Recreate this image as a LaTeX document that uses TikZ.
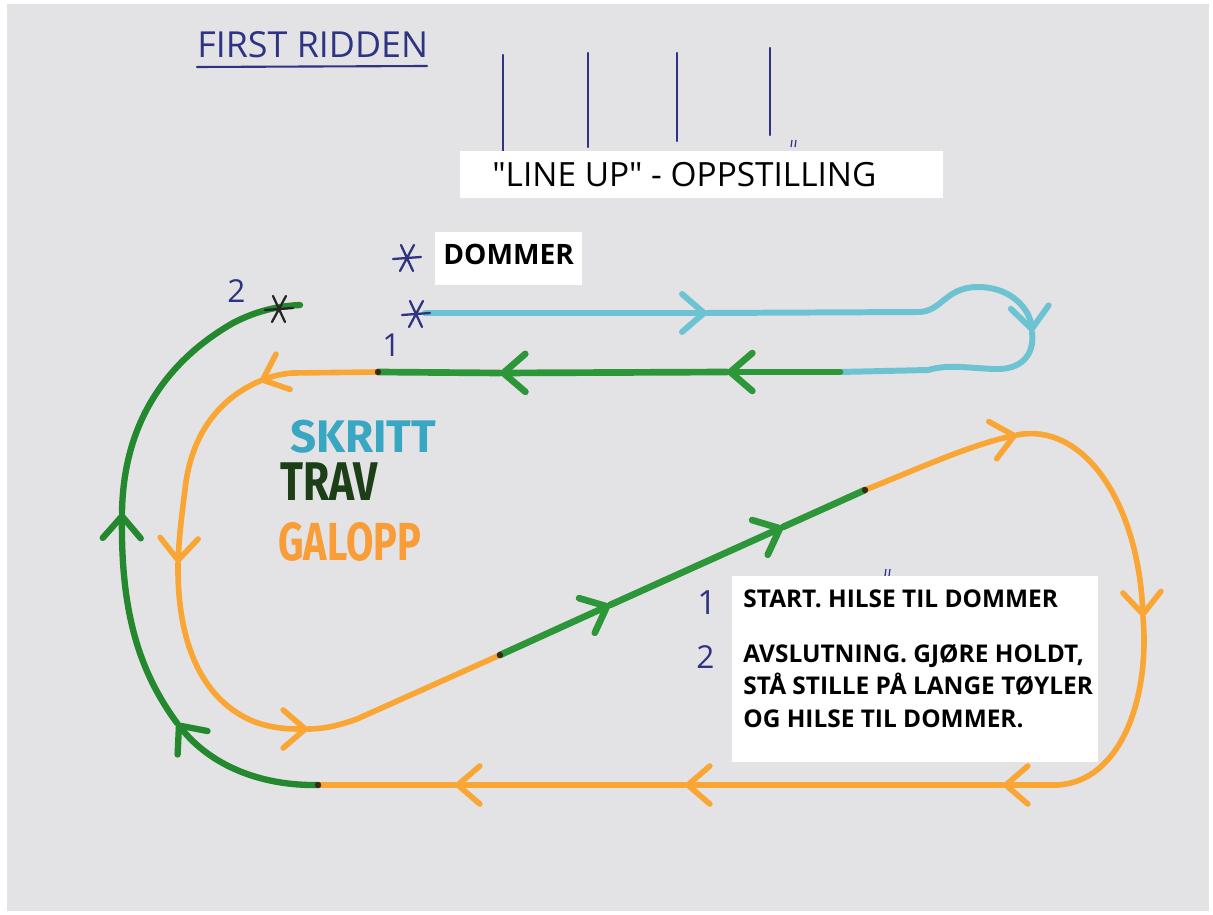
\documentclass[tikz,border=0pt]{standalone}
\usepackage{fontspec}
\setmainfont{Open Sans}
\newfontfamily\plainfont{Open Sans}
\newfontfamily\legendfont{Fira Sans}
\usetikzlibrary{arrows.meta}
\definecolor{paper}{HTML}{E3E3E5}
\definecolor{navy}{HTML}{2E3382}
\definecolor{skrline}{HTML}{6EC3D3}
\definecolor{grn}{HTML}{2C9638}
\definecolor{grnleft}{HTML}{23882E}
\definecolor{org}{HTML}{F9A634}
\definecolor{skr}{HTML}{3AA7C2}
\definecolor{trv}{HTML}{1D3F17}
\definecolor{glp}{HTML}{F99D38}
\definecolor{jdot}{HTML}{3A2A14}
\tikzset{
  chev/.tip={Straight Barb[length=0.44cm,width=0.76cm,round]},
  pen/.style={line cap=round, line join=round},
  skrittline/.style={pen, skrline, line width=3.4pt},
  travline/.style={pen, grn, line width=3.8pt},
  travleft/.style={pen, grnleft, line width=3.6pt},
  galoppline/.style={pen, org, line width=3.2pt},
  arr/.style={-{chev}},
  navyline/.style={navy, line width=1.2pt, line cap=round},
  hand/.style={navy, inner sep=0, anchor=base west, font=\fontsize{19}{19}\selectfont},
  typed/.style={inner sep=0, anchor=base west, text=black},
  legend/.style={inner sep=0, anchor=base west, font=\legendfont\bfseries\fontsize{26}{26}\selectfont},
  jdotstyle/.style={fill=jdot},
}
\newcommand\astk[3]{%
  \draw[#3, line width=1.3pt, line cap=round]
    (#1,#2) ++(-14,1) -- ++(28,-2)
    (#1,#2) ++(-6,-13) -- ++(12,26)
    (#1,#2) ++(7,-13) -- ++(-14,26);}
\begin{document}
\begin{tikzpicture}[x=0.02cm,y=-0.02cm]
\fill[white] (0,0) rectangle (1213,915);
\fill[paper] (7,4) rectangle (1209,911);
\useasboundingbox (0,0) rectangle (1213,915);

% title
\node[hand, font=\fontsize{20.4}{20}\selectfont] (title) at (197,58) {FIRST RIDDEN};
\draw[navyline] (197,67) -- (427,66);

% line-up marks
\draw[navyline] (503,55) -- (503,152);
\draw[navyline] (588,53) -- (588,147);
\draw[navyline] (677,53) -- (677,141);
\draw[navyline] (770,48) -- (770,135);
\draw[navy, line width=0.7pt] (792,140) -- (791,147) (796,140) -- (795,147);
\draw[navy, line width=0.7pt] (886,569) -- (885,576) (890,569) -- (889,576);

% line-up box
\fill[white] (460,151) rectangle (943,198);
\node[typed, font=\plainfont\fontsize{19}{22}\selectfont] (lineup) at (492,187) {"LINE UP" - OPPSTILLING};

% dommer box
\fill[white] (435,232) rectangle (582,285);
\node[typed, font=\bfseries\fontsize{16}{20}\selectfont] (dommer) at (443,265) {DOMMER};

% skritt (teal)
\coordinate (t0) at (425,313);
\coordinate (t1) at (707,313);
\coordinate (t2) at (1032,332);
\coordinate (t3) at (840,372);
\draw[skrittline, arr] (t0) -- (t1);
\draw[skrittline, arr] (t1) -- (918,312) .. controls (942,312) and (945,287) .. (978,287)
   .. controls (1012,287) and (1030,310) .. (t2);
\draw[skrittline] (t2) .. controls (1035,356) and (1020,370) .. (995,369)
   .. controls (965,368) and (950,364) .. (928,370) -- (t3);

% trav top
\coordinate (g1) at (727,372);
\coordinate (g2) at (500,373);
\coordinate (j1) at (378,372);
\draw[travline, arr] (t3) -- (g1);
\draw[travline, arr] (g1) -- (g2);
\draw[travline] (g2) -- (j1);

% galopp left loop
\coordinate (o1) at (260,381);
\coordinate (o2) at (178,563);
\coordinate (o3) at (308,729);
\coordinate (j2) at (500,655);
\draw[galoppline, arr] (j1) -- (292,373) .. controls (280,374) and (270,377) .. (o1);
\draw[galoppline, arr] (o1) .. controls (215,400) and (190,440) .. (185,490)
   .. controls (181,520) and (179,540) .. (o2);
\draw[galoppline, arr] (o2) .. controls (177,640) and (200,700) .. (255,722)
   .. controls (275,729) and (290,729) .. (o3);
\draw[galoppline] (o3) .. controls (325,729) and (340,725) .. (357,719) -- (j2);

% trav diagonal
\coordinate (d1) at (610,605);
\coordinate (d2) at (783,527);
\coordinate (j3) at (865,490);
\draw[travline, arr] (j2) -- (d1);
\draw[travline, arr] (d1) -- (d2);
\draw[travline] (d2) -- (j3);

% galopp right loop
\coordinate (r1) at (1017,435);
\coordinate (r2) at (1143,617);
\coordinate (r3) at (1003,785);
\coordinate (r4) at (685,785);
\coordinate (r5) at (455,785);
\coordinate (j4) at (318,785);
\draw[galoppline, arr] (j3) .. controls (920,468) and (970,445) .. (r1);
\draw[galoppline, arr] (r1) .. controls (1082,422) and (1138,500) .. (r2);
\draw[galoppline, arr] (r2) .. controls (1150,700) and (1120,782) .. (1057,785) -- (r3);
\draw[galoppline, arr] (r3) -- (r4);
\draw[galoppline, arr] (r4) -- (r5);
\draw[galoppline] (r5) -- (j4);

% trav left (finish)
\coordinate (l1) at (177,723);
\coordinate (l2) at (122,513);
\coordinate (lend) at (300,305);
\draw[travleft, arr] (j4) .. controls (260,786) and (210,765) .. (l1);
\draw[travleft, arr] (l1) .. controls (138,670) and (121,610) .. (l2);
\draw[travleft] (l2) .. controls (123,430) and (160,365) .. (233,323)
   .. controls (258,310) and (280,306) .. (lend);

% junction dots
\foreach \p in {j1,j2,j3,j4} \fill[jdotstyle] (\p) circle (3.2);

% asterisks and numbers
\astk{407}{258}{navy}
\astk{416}{314}{navy}
\astk{279}{309}{black!85}
\node[hand, font=\fontsize{18}{18}\selectfont] (n2top) at (227,303) {2};
\node[hand, font=\fontsize{18}{18}\selectfont] (n1top) at (382,357) {1};

% legend
\node[legend, skr] (skritt) at (290,452) {SKRITT};
\node[legend, trv] (trav) at (280,500) {\scalebox{0.78}[1]{\fontsize{31}{31}\selectfont TRAV}};
\node[legend, glp] (galopp) at (278,560) {\scalebox{0.74}[1]{\fontsize{30.5}{31}\selectfont GALOPP}};

% explanation box
\fill[white] (732,576) rectangle (1098,762);
\node[hand, font=\fontsize{19}{19}\selectfont] (k1) at (697,614) {1};
\node[hand, font=\fontsize{18}{18}\selectfont] (k2) at (696,668) {2};
\node[typed, font=\bfseries\fontsize{13.9}{18}\selectfont] (e1) at (743,607) {START. HILSE TIL DOMMER};
\node[typed, font=\bfseries\fontsize{13.9}{18}\selectfont] (e2) at (743,662) {AVSLUTNING. GJØRE HOLDT,};
\node[typed, font=\bfseries\fontsize{13.9}{18}\selectfont] (e3) at (743,694) {STÅ STILLE PÅ LANGE TØYLER};
\node[typed, font=\bfseries\fontsize{13.9}{18}\selectfont] (e4) at (743,727) {OG HILSE TIL DOMMER.};
\end{tikzpicture}
\end{document}
